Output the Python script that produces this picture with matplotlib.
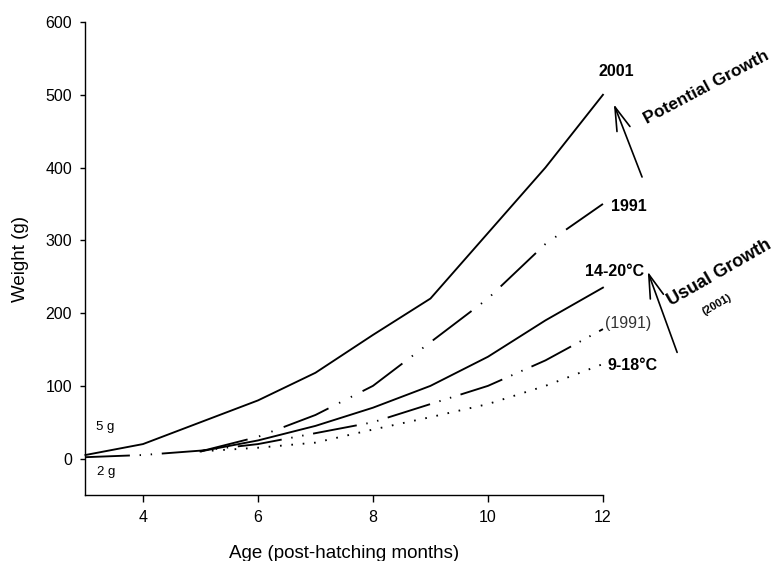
import matplotlib
matplotlib.use("Agg")
import matplotlib.pyplot as plt

plt.rcParams['font.family'] = ['Liberation Sans', 'DejaVu Sans']
plt.rcParams['lines.scale_dashes'] = False

# Growth curves, weight (g) by age (post-hatching months)
months_full = [3, 4, 5, 6, 7, 8, 9, 10, 11, 12]
months_late = [5, 6, 7, 8, 9, 10, 11, 12]

potential_2001 = [5, 20, 50, 80, 118, 170, 220, 310, 400, 500]
potential_1991 = [10, 30, 60, 100, 160, 220, 295, 350]
usual_14_20 = [10, 25, 45, 70, 100, 140, 190, 235]
usual_1991 = [2, 5, 11, 20, 35, 50, 75, 100, 135, 178]
usual_9_18 = [10, 15, 22, 40, 57, 75, 100, 130]

x_ticks = [4, 6, 8, 10, 12]
y_ticks = [0, 100, 200, 300, 400, 500, 600]

fig = plt.figure(figsize=(7.77, 5.61), dpi=100)
ax = fig.add_axes([0.110, 0.1176, 0.666, 0.8432])

lw = 1.35
ax.plot(months_full, potential_2001, color='black', lw=lw, clip_on=False)
ax.plot(months_late, potential_1991, color='black', lw=lw, clip_on=False,
        linestyle=(0, (35, 8.5, 1, 8.5, 1, 8.5)))
ax.plot(months_late, usual_14_20, color='black', lw=lw, clip_on=False)
ax.plot(months_full, usual_1991, color='black', lw=lw, clip_on=False,
        linestyle=(0, (32, 7, 1, 7, 1, 7)))
ax.plot(months_late, usual_9_18, color='black', lw=lw, clip_on=False,
        linestyle=(0, (1.2, 7)))

ax.set_xlim(3, 12)
ax.set_ylim(-50, 600)
ax.set_xticks(x_ticks)
ax.set_yticks(y_ticks)
ax.tick_params(axis='y', direction='out', length=3.6, width=1, labelsize=11.5, pad=6)
ax.tick_params(axis='x', direction='out', length=5, width=1, labelsize=11.5, pad=6)
for side in ['top', 'right']:
    ax.spines[side].set_visible(False)
for side in ['left', 'bottom']:
    ax.spines[side].set_linewidth(1)

ax.set_xlabel('Age (post-hatching months)', fontsize=13.5, labelpad=14)
ax.set_ylabel('Weight (g)', fontsize=13.5, labelpad=12)

# Curve labels
ax.text(12.24, 532, '2001', fontsize=11.5, fontweight='bold', ha='center', va='center')
ax.text(12.45, 347, '1991', fontsize=11.5, fontweight='bold', ha='center', va='center')
ax.text(12.21, 257, '14-20°C', fontsize=11.5, fontweight='bold', ha='center', va='center')
ax.text(12.44, 186, '(1991)', fontsize=11.5, color='#333333', ha='center', va='center')
ax.text(12.52, 128, '9-18°C', fontsize=11.5, fontweight='bold', ha='center', va='center')
ax.text(3.34, 44, '5 g', fontsize=9.5, ha='center', va='center')
ax.text(3.36, -19, '2 g', fontsize=9.5, ha='center', va='center')

# Growth arrows and their captions
arrow = dict(arrowstyle='->, head_length=0.85, head_width=0.25', color='black',
             lw=1.2, mutation_scale=20, shrinkA=0, shrinkB=0)
ax.annotate('', xy=(12.19, 487), xytext=(12.68, 387), arrowprops=arrow,
            annotation_clip=False)
ax.annotate('', xy=(12.78, 257), xytext=(13.29, 146), arrowprops=arrow,
            annotation_clip=False)

ax.text(13.8, 510, 'Potential Growth', fontsize=12.5, fontweight='bold',
        rotation=28, ha='center', va='center', rotation_mode='anchor')
ax.text(14.02, 255, 'Usual Growth', fontsize=13, fontweight='bold',
        rotation=30, ha='center', va='center', rotation_mode='anchor')
ax.text(13.98, 211, '(2001)', fontsize=8, fontweight='bold',
        rotation=30, ha='center', va='center', rotation_mode='anchor')

fig.savefig('out.png', dpi=100)
